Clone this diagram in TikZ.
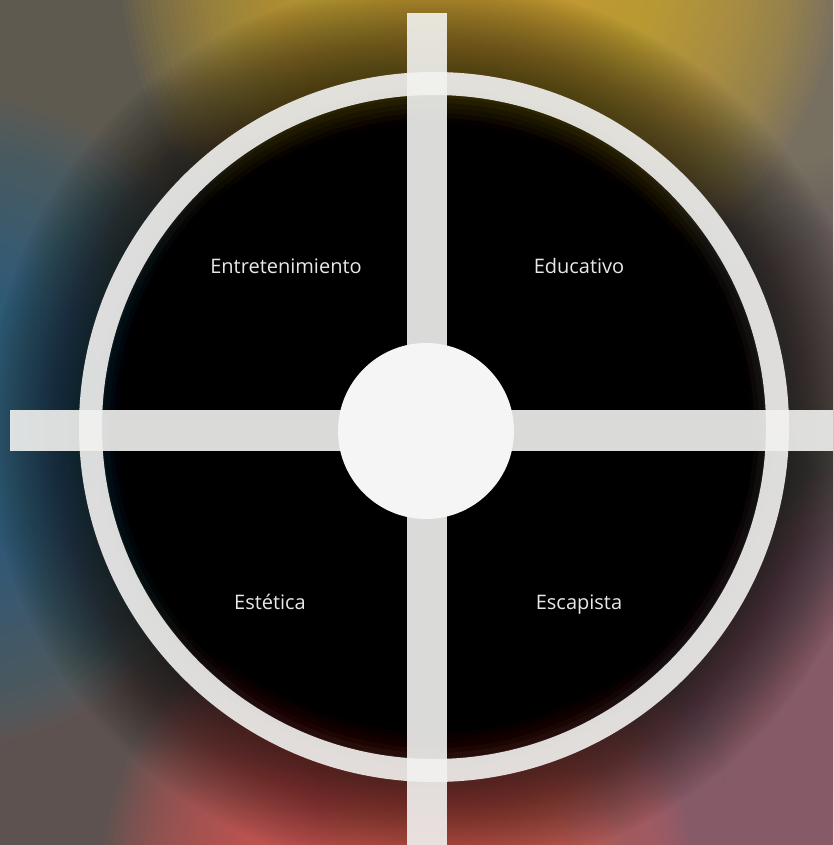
\documentclass[tikz,border=0pt]{standalone}
\usepackage{fontspec}
\setmainfont{Open Sans}
\definecolor{basebg}{HTML}{5E5A50}
\definecolor{yellowbg}{HTML}{D8B032}
\definecolor{tealbg}{HTML}{2E7490}
\definecolor{redbg}{HTML}{E85A50}
\definecolor{mauvebg}{HTML}{A05A80}
\definecolor{graybg}{HTML}{908878}
\definecolor{olivebg}{HTML}{727250}
\definecolor{purplebg}{HTML}{6C6076}
\definecolor{brownbg}{HTML}{6E5252}
\definecolor{barcol}{HTML}{F2F2F0}
\definecolor{hubcol}{HTML}{F5F5F5}
\definecolor{txtcol}{HTML}{E8E8E8}
\newcommand\glowspot[5]{% colour, x, y, outer radius, step opacity
  \foreach \k in {1,...,64}{\fill[#1, fill opacity=#5] (#2,#3) circle[radius={(#4/64*\k)*1pt}];}}
\tikzset{
  barfill/.style={fill=barcol, fill opacity=0.9},
  lbl/.style={text=txtcol, font=\fontsize{20pt}{22pt}\selectfont, inner sep=0pt, anchor=base}
}
\begin{document}
\begin{tikzpicture}[x=1pt,y=-1pt]
\useasboundingbox (0,0) rectangle (833,845);
\begin{scope}
\clip (0,0) rectangle (833,845);
\fill[basebg] (0,0) rectangle (833,845);
\glowspot{olivebg}{30}{60}{360}{0.032}
\glowspot{brownbg}{40}{840}{320}{0.032}
\glowspot{graybg}{860}{110}{360}{0.038}
\glowspot{purplebg}{900}{480}{330}{0.032}
\glowspot{yellowbg}{480}{-40}{360}{0.045}
\glowspot{tealbg}{-70}{420}{330}{0.036}
\glowspot{redbg}{420}{890}{320}{0.045}
\glowspot{mauvebg}{900}{800}{340}{0.038}
% dark centre
\fill[black] (434,428) circle[radius=280pt];
\foreach \k in {1,...,12}{\fill[black, fill opacity=0.2] (434,428) circle[radius={(280+5*\k)*1pt}];}
\foreach \k in {0,...,29}{\fill[black, fill opacity=0.024] (434,428) circle[radius={(360+3*\k)*1pt}];}
\end{scope}
% ring
\draw[barcol, line width=23pt, draw opacity=0.9] (434,427) circle[radius=343.5pt];
% cross bars
\fill[barfill] (407,13) rectangle (447,845);
\fill[barfill] (10,410) rectangle (833,451);
% hub
\node[circle, fill=hubcol, minimum size=176pt, inner sep=0pt] (hub) at (426,431) {};
% labels
\node[lbl] (ent) at (286,273.5) {Entretenimiento};
\node[lbl] (edu) at (579,273.5) {Educativo};
\node[lbl] (est) at (270,609) {Estética};
\node[lbl] (esc) at (579,609) {Escapista};
\end{tikzpicture}
\end{document}
